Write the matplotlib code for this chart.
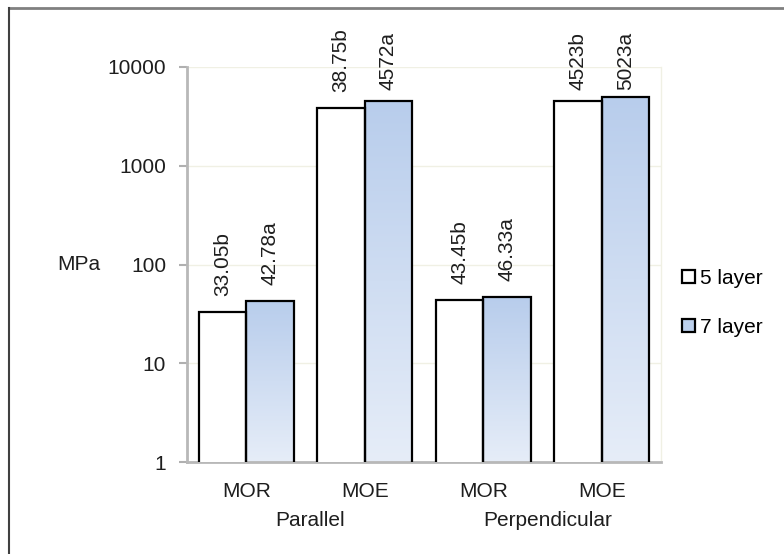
import numpy as np
import matplotlib
matplotlib.use("Agg")
import matplotlib.pyplot as plt
from matplotlib.patches import Patch
from matplotlib.lines import Line2D
from matplotlib.colors import LinearSegmentedColormap

plt.rcParams['font.family'] = ['Liberation Sans', 'DejaVu Sans']

# ---- data ----
categories = ["MOR", "MOE", "MOR", "MOE"]
groups = ["Parallel", "Perpendicular"]
series_names = ["5 layer", "7 layer"]
layer5 = [33.05, 3875, 43.45, 4523]
layer7 = [42.78, 4572, 46.33, 5023]
labels5 = ["33.05b", "38.75b", "43.45b", "4523b"]
labels7 = ["42.78a", "4572a", "46.33a", "5023a"]
yticks = [1, 10, 100, 1000, 10000]
ytick_labels = ["1", "10", "100", "1000", "10000"]

FS = 15
TXT = '#1e1e1e'
fig = plt.figure(figsize=(7.84, 5.54), dpi=100)
ax = fig.add_axes([187/784, 1-462/554, (661-187)/784, (462-67)/554])
ax.set_yscale('log')
ax.set_ylim(1, 10000)
ax.set_xlim(-0.5, 3.5)

x = np.arange(len(categories))
w = 0.4
ax.bar(x - w/2, layer5, width=w, color='white', edgecolor='black', linewidth=1.6, zorder=3)
bars7 = ax.bar(x + w/2, layer7, width=w, color='none', edgecolor='black', linewidth=1.6, zorder=4)

cmap = LinearSegmentedColormap.from_list('g', ['#e6edf8', '#b8cdec'])
grad = np.linspace(0, 1, 256).reshape(-1, 1)
to_axes = ax.transData + ax.transAxes.inverted()
for b in bars7:
    (x0, y0) = to_axes.transform((b.get_x(), 1))
    (x1, y1) = to_axes.transform((b.get_x() + b.get_width(), b.get_height()))
    ax.imshow(grad, cmap=cmap, origin='lower', aspect='auto', extent=[x0, x1, y0, y1],
              transform=ax.transAxes, zorder=2, interpolation='bilinear')
ax.set_xlim(-0.5, 3.5)
ax.set_ylim(1, 10000)

# value labels
cap = (462 - 90) / 395
for xs, vals, labs in [(x - w/2, layer5, labels5), (x + w/2, layer7, labels7)]:
    for xi, v, lab in zip(xs, vals, labs):
        _, yf = to_axes.transform((xi, v))
        yl = min(yf + 16/395, cap)
        ax.text(xi, yl, lab, transform=ax.get_xaxis_transform(), rotation=90,
                ha='center', va='bottom', fontsize=FS, color=TXT)

ax.set_yticks(yticks)
ax.set_yticklabels(ytick_labels)
ax.yaxis.set_minor_locator(matplotlib.ticker.NullLocator())
ax.tick_params(axis='y', length=6, width=1.5, color='#b0b0b0', pad=9, labelsize=FS, labelcolor=TXT)
ax.set_xticks(x)
ax.set_xticklabels(categories)
ax.tick_params(axis='x', length=0, pad=14.5, labelsize=FS, labelcolor=TXT)

ax.grid(axis='y', color='#f0f0e4', linewidth=1, zorder=0)
for s in ['left', 'bottom']:
    ax.spines[s].set_color('#b8b8b8')
    ax.spines[s].set_linewidth(2)
ax.spines['top'].set_visible(False)
ax.spines['right'].set_color('#f0f0e4')
ax.spines['right'].set_linewidth(1)

# group labels
for gi, g in enumerate(groups):
    ax.text(gi * 2 + 0.5 + 0.04, -58/395, g, transform=ax.get_xaxis_transform(),
            ha='center', va='center', fontsize=FS, color=TXT)

fig.text(79/784, 1-265/554, "MPa", ha='center', va='center', fontsize=FS, color=TXT)

handles = [Patch(facecolor='white', edgecolor='black', linewidth=1.6),
           Patch(facecolor='#bcd0ec', edgecolor='black', linewidth=1.6)]
fig.legend(handles=handles, labels=series_names, loc='upper left',
           bbox_to_anchor=(682/784, 1-269/554), frameon=False, fontsize=FS,
           handlelength=0.6, handleheight=0.6, handletextpad=0.25, labelspacing=1.45,
           borderpad=0, borderaxespad=0)

# outer frame (top and left edges visible)
fig.add_artist(Line2D([9/784, 1], [1-8/554, 1-8/554], transform=fig.transFigure, color='#808080', linewidth=2))
fig.add_artist(Line2D([9/784, 9/784], [0, 1-8/554], transform=fig.transFigure, color='#404040', linewidth=1.5))

fig.savefig("out.png", dpi=100)
